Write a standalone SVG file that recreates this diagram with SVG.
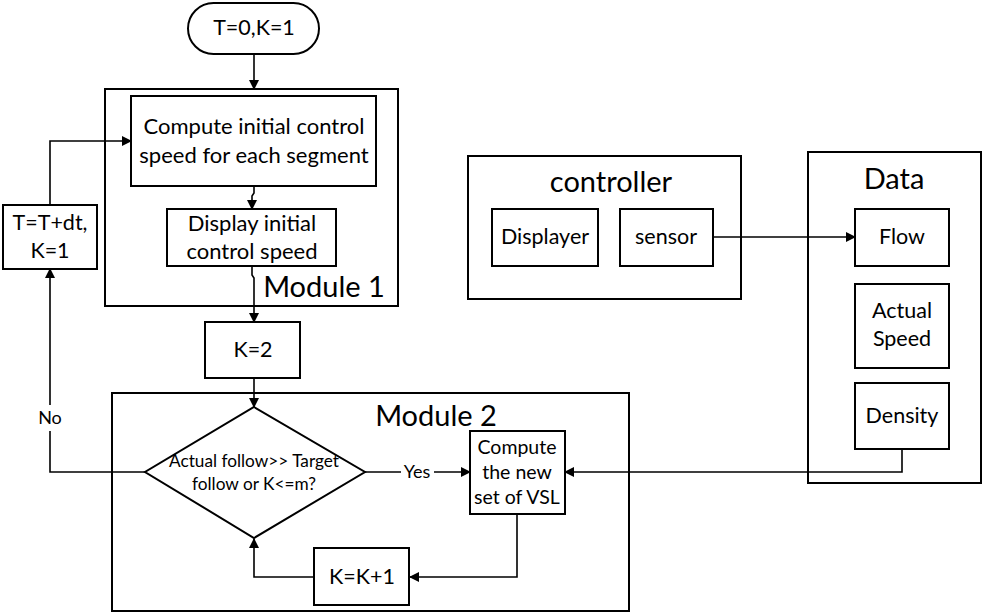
<svg xmlns="http://www.w3.org/2000/svg" width="987" height="614" viewBox="0 0 987 614">
<style>
.box{fill:#fff;stroke:#000;stroke-width:2}
.cont{fill:none;stroke:#000;stroke-width:2}
.ln{fill:none;stroke:#000;stroke-width:1.6}
text{font-family:Lato,"Liberation Sans",sans-serif;fill:#000;text-anchor:middle}
.t20{font-size:21.5px}
.t22{font-size:22px}
.t26{font-size:29px}
.t17{font-size:18px}
.t19{font-size:19.5px}
</style>
<defs>
<marker id="ah" markerWidth="10" markerHeight="10" refX="9" refY="5" orient="auto" markerUnits="userSpaceOnUse">
<path d="M0,0 L10,5 L0,10 z" fill="#000"/>
</marker>
</defs>
<rect width="987" height="614" fill="#fff"/>

<g id="module1">
<rect class="cont" x="105" y="89" width="293" height="217"/>
<text class="t26" x="324" y="297">Module 1</text>
</g>
<g id="module2">
<rect class="cont" x="112" y="393" width="517" height="218"/>
<text class="t26" x="436" y="426">Module 2</text>
</g>
<g id="controller">
<rect class="cont" x="468" y="156" width="273" height="143"/>
<text class="t26" x="611" y="192">controller</text>
</g>
<g id="data">
<rect class="cont" x="808" y="152" width="173" height="331"/>
<text class="t26" x="894" y="189">Data</text>
</g>

<g id="connectors">
<line class="ln" x1="254" y1="54" x2="254" y2="89" marker-end="url(#ah)"/>
<polyline class="ln" points="254,186 254,193 252,196 252,209" marker-end="url(#ah)"/>
<polyline class="ln" points="252,266 252,275 254,278 254,322" marker-end="url(#ah)"/>
<line class="ln" x1="254" y1="378" x2="254" y2="407" marker-end="url(#ah)"/>
<polyline class="ln" points="50,205 50,141 131,141" marker-end="url(#ah)"/>
<polyline class="ln" points="145,472 50,472 50,269" marker-end="url(#ah)"/>
<line class="ln" x1="365" y1="472" x2="470" y2="472" marker-end="url(#ah)"/>
<polyline class="ln" points="517,514 517,577 410,577" marker-end="url(#ah)"/>
<polyline class="ln" points="314,577 254,577 254,539" marker-end="url(#ah)"/>
<line class="ln" x1="713" y1="237" x2="855" y2="237" marker-end="url(#ah)"/>
<polyline class="ln" points="902,449 902,472 565,472" marker-end="url(#ah)"/>
<rect x="35" y="405" width="30" height="26" fill="#fff"/>
<text class="t17" x="50" y="424">No</text>
<rect x="401" y="462" width="33" height="20" fill="#fff"/>
<text class="t17" x="417" y="478">Yes</text>
</g>

<g id="start">
<rect class="box" x="188" y="3" width="131" height="51" rx="25.5"/>
<text class="t20" x="254" y="35">T=0,K=1</text>
</g>
<g id="compute-initial">
<rect class="box" x="131" y="96" width="245" height="90"/>
<text class="t22" x="254" y="134">Compute initial control</text>
<text class="t22" x="254" y="163">speed for each segment</text>
</g>
<g id="display-initial">
<rect class="box" x="167" y="209" width="169" height="57"/>
<text class="t22" x="252" y="231">Display initial</text>
<text class="t22" x="252" y="259">control speed</text>
</g>
<g id="t-update">
<rect class="box" x="3" y="205" width="94" height="64"/>
<text class="t20" x="50" y="230">T=T+dt,</text>
<text class="t20" x="50" y="258">K=1</text>
</g>
<g id="k2">
<rect class="box" x="205" y="322" width="95" height="56"/>
<text class="t20" x="253" y="357">K=2</text>
</g>
<g id="decision">
<polygon class="box" points="254,407 365,472 254,538 145,472"/>
<text x="254" y="467" font-size="17" textLength="170" lengthAdjust="spacingAndGlyphs">Actual follow&gt;&gt; Target</text>
<text x="254" y="490" font-size="17" textLength="124" lengthAdjust="spacingAndGlyphs">follow or K&lt;=m?</text>
</g>
<g id="compute-vsl">
<rect class="box" x="470" y="431" width="95" height="83"/>
<text class="t19" x="517" y="454">Compute</text>
<text class="t19" x="517" y="479">the new</text>
<text class="t19" x="517" y="504">set of VSL</text>
</g>
<g id="kinc">
<rect class="box" x="314" y="548" width="95" height="57"/>
<text class="t20" x="362" y="584">K=K+1</text>
</g>
<g id="displayer">
<rect class="box" x="492" y="209" width="106" height="57"/>
<text class="t20" x="545" y="244">Displayer</text>
</g>
<g id="sensor">
<rect class="box" x="620" y="209" width="93" height="57"/>
<text class="t20" x="666" y="244">sensor</text>
</g>
<g id="flow">
<rect class="box" x="855" y="209" width="94" height="57"/>
<text class="t20" x="902" y="244">Flow</text>
</g>
<g id="actual-speed">
<rect class="box" x="855" y="284" width="94" height="84"/>
<text class="t20" x="902" y="318">Actual</text>
<text class="t20" x="902" y="346">Speed</text>
</g>
<g id="density">
<rect class="box" x="855" y="383" width="94" height="66"/>
<text class="t20" x="902" y="423">Density</text>
</g>
</svg>
